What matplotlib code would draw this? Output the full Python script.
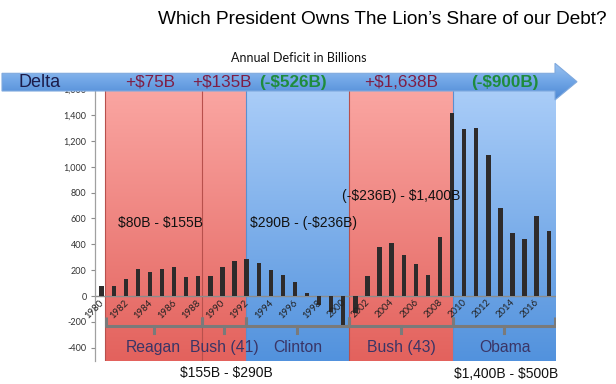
import numpy as np
import matplotlib
matplotlib.use("Agg")
import matplotlib.pyplot as plt
from matplotlib.patches import Polygon
from matplotlib.colors import LinearSegmentedColormap
import matplotlib.ticker as mticker

plt.rcParams["text.parse_math"] = False

# ---------------- data ----------------
years = list(range(1980, 2018))
deficits = [74, 79, 128, 208, 185, 212, 221, 150, 155, 153,
            221, 269, 290, 255, 203, 164, 107, 22, -69, -126,
            -236, -128, 158, 378, 413, 318, 248, 161, 459, 1413,
            1294, 1300, 1087, 680, 485, 438, 619, 503]
presidents = ["Reagan", "Bush (41)", "Clinton", "Bush (43)", "Obama"]
term_start = [1980.3, 1988.3, 1991.95, 2000.45, 2009.1]
term_end = [1988.3, 1991.95, 2000.45, 2009.1, 2017.6]
party = ["R", "R", "D", "R", "D"]
deltas = ["+$75B", "+$135B", "(-$526B)", "+$1,638B", "(-$900B)"]
ranges_in = ["$80B - $155B", "$290B - (-$236B)", "(-$236B) - $1,400B"]
ranges_out = ["$155B - $290B", "$1,400B - $500B"]
tick_years = list(range(1980, 2017, 2))
y_ticks = list(range(-400, 1601, 200))

# ---------------- figure ----------------
W, H = 616, 384
fig = plt.figure(figsize=(W / 100, H / 100), dpi=100)
fig.patch.set_facecolor("white")

def px_to_fig(x0, y0, x1, y1):
    return [x0 / W, 1 - y1 / H, (x1 - x0) / W, (y1 - y0) / H]

ax = fig.add_axes(px_to_fig(95, 89.1, 556, 360.7))
xmin, xmax = 1979.45, 2017.6
ymin, ymax = -500, 1600

red_cmap = LinearSegmentedColormap.from_list("r", ["#FAA6A2", "#E3625D"])
blue_cmap = LinearSegmentedColormap.from_list("b", ["#AACDF8", "#5292DD"])
grad = np.linspace(0, 1, 256).reshape(-1, 1)
for s, e, p in zip(term_start, term_end, party):
    cmap = red_cmap if p == "R" else blue_cmap
    ax.imshow(grad, extent=[s, e, ymin, ymax], origin="upper", cmap=cmap,
              aspect="auto", zorder=0, interpolation="bilinear")
    edge = "#B8504C" if p == "R" else "#5A8FD0"
    ax.plot([s, s], [ymin, ymax], color=edge, lw=0.8, zorder=0.5)

ax.bar(years, deficits, width=0.36, color="#2E2B2B", zorder=3)
ax.axhline(0, color="#8C8C8C", lw=1.0, zorder=2)

ax.set_xlim(xmin, xmax)
ax.set_ylim(ymin, ymax)
ax.set_xticks([])
ax.set_yticks(y_ticks)
ax.yaxis.set_major_formatter(mticker.FuncFormatter(lambda v, p: f"{int(v):,}"))
ax.tick_params(axis="y", labelsize=6.5, colors="#8C8C8C", labelcolor="#333333",
               length=3, width=0.8, pad=3)
for lab in ax.get_yticklabels():
    lab.set_family("Lato")
for sp in ["top", "right", "bottom"]:
    ax.spines[sp].set_visible(False)
ax.spines["left"].set_color("#A0A0A0")
ax.spines["left"].set_linewidth(0.9)

# year labels
for yv in tick_years:
    ax.text(yv + 0.35, -14, str(yv), rotation=45, ha="right", va="top",
            fontsize=6.8, family="Lato", color="#222222", zorder=4)

# brackets
br_y, up_y, dn_y = -232, -165, -288
bc = "#7A7A7A"
for s, e in zip(term_start, term_end):
    s2 = max(s, 1980.35)
    e2 = min(e, 2017.55)
    c = (s2 + e2) / 2
    ax.plot([s2, s2, e2, e2], [up_y, br_y, br_y, up_y], color=bc, lw=2.2,
            solid_capstyle="butt", zorder=4)
    ax.plot([c, c], [br_y, dn_y], color=bc, lw=2.2, zorder=4)

for s, e, name in zip(term_start, term_end, presidents):
    ax.text((s + e) / 2, -395, name, ha="center", va="center", fontsize=11.3,
            family="Liberation Sans", color="#3A3566", zorder=5)

ax.text(1984.83, 565, ranges_in[0], ha="center", va="center", fontsize=10,
        family="Liberation Sans", color="#111111", zorder=5)
ax.text(1996.67, 565, ranges_in[1], ha="center", va="center", fontsize=10,
        family="Liberation Sans", color="#111111", zorder=5)
ax.text(2004.78, 773, ranges_in[2], ha="center", va="center", fontsize=10,
        family="Liberation Sans", color="#111111", zorder=5)

# ---------------- overlay (pixel coords) ----------------
ov = fig.add_axes([0, 0, 1, 1], zorder=10)
ov.set_xlim(0, W)
ov.set_ylim(H, 0)
ov.axis("off")
ov.patch.set_alpha(0)

arrow_pts = [(2, 73.3), (555, 73.3), (555, 63.3), (577, 81.7),
             (555, 100), (555, 91), (2, 91)]
poly = Polygon(arrow_pts, closed=True, facecolor="none", edgecolor="#7FA9DE",
               lw=0.8, zorder=2)
ov.add_patch(poly)
arrow_cmap = LinearSegmentedColormap.from_list("a", ["#9CC3F0", "#6FA5E6", "#4C87D3"])
im = ov.imshow(grad, extent=[2, 577, 100, 63.3], origin="upper", cmap=arrow_cmap,
               aspect="auto", zorder=1, interpolation="bilinear")
im.set_clip_path(poly)
ov.set_xlim(0, W)
ov.set_ylim(H, 0)

ov.text(18, 82.5, "Delta", ha="left", va="center", fontsize=13,
        family="Liberation Sans", color="#1C1C4A", zorder=3)
delta_x = [150, 222, 293, 401, 505]
for xv, d in zip(delta_x, deltas):
    neg = d.startswith("(")
    ov.text(xv, 82.5, d, ha="center", va="center", fontsize=12.3,
            family="Liberation Sans",
            color="#1E8C3C" if neg else "#7E1E45",
            fontweight="bold" if neg else "normal", zorder=3)

ov.text(382, 20, "Which President Owns The Lion\u2019s Share of our Debt?",
        ha="center", va="center", fontsize=13.7, family="Liberation Sans",
        color="#000000")
ov.text(299, 58, "Annual Deficit in Billions", ha="center", va="center",
        fontsize=9, family="Lato", color="#111111")

ov.text(226, 373.5, ranges_out[0], ha="center", va="center", fontsize=10,
        family="Liberation Sans", color="#111111")
ov.text(506, 373.5, ranges_out[1], ha="center", va="center", fontsize=10,
        family="Liberation Sans", color="#111111")

fig.savefig("out.png", dpi=100)
